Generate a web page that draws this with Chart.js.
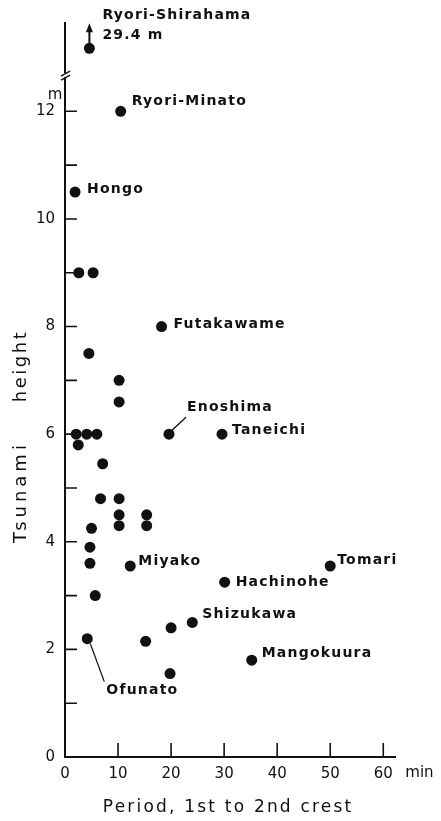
<!DOCTYPE html>
<html>
<head>
<meta charset="utf-8">
<script src="https://cdn.jsdelivr.net/npm/chart.js@4/dist/chart.umd.min.js"></script>
<style>
  html, body { margin: 0; padding: 0; background: #fff; }
  #wrap { width: 441px; height: 821px; }
</style>
</head>
<body>
<div id="wrap"><canvas id="tsunamiChart" width="441" height="821"></canvas></div>
<script>
// period between 1st and 2nd crest (min) vs. tsunami height (m)
const periods = [4.6, 10.5, 1.9, 2.6, 5.3, 18.2, 4.5, 10.2, 10.2, 2.1, 4.1, 6.0, 19.6, 29.6, 2.5, 7.1, 6.7, 10.2,
  10.2, 15.4, 10.2, 15.4, 5.0, 4.7, 4.7, 12.3, 50.0, 30.1, 5.7, 24.0, 20.0, 4.2, 15.2, 35.2, 19.8];
const heights = [29.4, 12.0, 10.5, 9.0, 9.0, 8.0, 7.5, 7.0, 6.6, 6.0, 6.0, 6.0, 6.0, 6.0, 5.8, 5.45, 4.8, 4.8,
  4.5, 4.5, 4.3, 4.3, 4.25, 3.9, 3.6, 3.55, 3.55, 3.25, 3.0, 2.5, 2.4, 2.2, 2.15, 1.8, 1.55];
const places = ['Ryori-Shirahama', 'Ryori-Minato', 'Hongo', '', '', 'Futakawame', '', '', '', '', '', '', 'Enoshima',
  'Taneichi', '', '', '', '', '', '', '', '', '', '', '', 'Miyako', 'Tomari', 'Hachinohe', '', 'Shizukawa', '',
  'Ofunato', '', 'Mangokuura', ''];
const xTicks = [0, 10, 20, 30, 40, 50, 60];
const yTicks = [0, 2, 4, 6, 8, 10, 12];

// where each place name sits relative to its dot (px), plus optional leader line
const labelPos = {
  'Ryori-Shirahama': { dx: 13, dy: -33 },
  'Ryori-Minato': { dx: 11, dy: -10 },
  'Hongo': { dx: 12, dy: -3 },
  'Futakawame': { dx: 12, dy: -2 },
  'Enoshima': { dx: 18, dy: -27, leader: [3, -4, 17, -17] },
  'Taneichi': { dx: 10, dy: -4 },
  'Miyako': { dx: 8, dy: -5 },
  'Tomari': { dx: 7, dy: -6 },
  'Hachinohe': { dx: 11, dy: 0 },
  'Shizukawa': { dx: 10, dy: -8 },
  'Mangokuura': { dx: 10, dy: -7 },
  'Ofunato': { dx: 19, dy: 52, leader: [3, 5, 17, 43] }
};

// the height axis is broken above 12.6 m, the top part is squeezed
const yBreak = 12.6;
const yCompress = 0.034;
const toAxis = v => v > yBreak ? yBreak + (v - yBreak) * yCompress : v;

const INK = '#111';
const labelFont = 'bold 14px "DejaVu Sans"';

const annotate = {
  id: 'annotate',
  afterDatasetsDraw(chart) {
    const { ctx, scales: { x, y } } = chart;
    const x0 = x.getPixelForValue(0);
    const y0 = y.getPixelForValue(0);
    const top = chart.chartArea.top;
    const brk = y.getPixelForValue(yBreak);
    ctx.save();
    ctx.strokeStyle = INK;
    ctx.fillStyle = INK;
    ctx.lineCap = 'butt';

    // axes
    ctx.lineWidth = 2;
    ctx.beginPath();
    ctx.moveTo(x0, y0 + 1);
    ctx.lineTo(x0, brk - 2);
    ctx.moveTo(x0, brk - 6);
    ctx.lineTo(x0, top);
    ctx.moveTo(x0 - 1, y0);
    ctx.lineTo(chart.chartArea.right, y0);
    ctx.stroke();
    // break marks
    ctx.lineWidth = 1.5;
    ctx.beginPath();
    ctx.moveTo(x0 - 4, brk + 1); ctx.lineTo(x0 + 5, brk - 4);
    ctx.moveTo(x0 - 4, brk - 3); ctx.lineTo(x0 + 5, brk - 8);
    ctx.stroke();

    // inner tick marks
    ctx.lineWidth = 1.6;
    ctx.beginPath();
    for (let v = 1; v <= 12; v++) {
      const py = y.getPixelForValue(v);
      ctx.moveTo(x0, py); ctx.lineTo(x0 + 12, py);
    }
    xTicks.slice(1).forEach(v => {
      const px = x.getPixelForValue(v);
      ctx.moveTo(px, y0); ctx.lineTo(px, y0 - 14);
    });
    ctx.stroke();

    // units
    ctx.font = '15px "DejaVu Sans"';
    ctx.textBaseline = 'middle';
    ctx.textAlign = 'left';
    ctx.fillText('min', x.getPixelForValue(60) + 22, y0 + 16);
    ctx.textAlign = 'center';
    ctx.fillText('m', x0 - 10, y.getPixelForValue(12) - 16);

    // axis titles
    ctx.font = '17px "DejaVu Sans"';
    ctx.letterSpacing = '2.2px';
    ctx.textAlign = 'center';
    ctx.fillText('Period, 1st to 2nd crest', (x0 + x.getPixelForValue(60)) / 2 + 4, y0 + 51);
    ctx.save();
    ctx.translate(21, 0);
    ctx.rotate(-Math.PI / 2);
    ctx.font = '18px "DejaVu Sans"';
    ctx.letterSpacing = '4px';
    ctx.fillText('Tsunami', -492, 0);
    ctx.letterSpacing = '2.5px';
    ctx.fillText('height', -366, 0);
    ctx.restore();

    // place names
    ctx.font = labelFont;
    ctx.letterSpacing = '1.2px';
    ctx.textAlign = 'left';
    ctx.lineWidth = 1.3;
    const meta = chart.getDatasetMeta(0);
    places.forEach((name, i) => {
      if (!name) return;
      const pt = meta.data[i];
      const pos = labelPos[name];
      ctx.fillText(name, pt.x + pos.dx, pt.y + pos.dy);
      if (pos.leader) {
        const [a, b, c, d] = pos.leader;
        ctx.beginPath();
        ctx.moveTo(pt.x + a, pt.y + b);
        ctx.lineTo(pt.x + c, pt.y + d);
        ctx.stroke();
      }
      if (heights[i] > yBreak) {
        // off-scale value: arrow up and the real height
        ctx.fillText(heights[i].toFixed(1) + ' m', pt.x + pos.dx, pt.y + pos.dy + 20);
        ctx.lineWidth = 2;
        ctx.beginPath();
        ctx.moveTo(pt.x, pt.y - 4);
        ctx.lineTo(pt.x, pt.y - 18);
        ctx.stroke();
        ctx.beginPath();
        ctx.moveTo(pt.x, pt.y - 25);
        ctx.lineTo(pt.x - 3.5, pt.y - 16);
        ctx.lineTo(pt.x + 3.5, pt.y - 16);
        ctx.closePath();
        ctx.fill();
        ctx.lineWidth = 1.3;
      }
    });
    ctx.restore();
  }
};

new Chart(document.getElementById('tsunamiChart'), {
  type: 'scatter',
  data: {
    datasets: [{
      label: 'Tsunami height',
      data: periods.map((p, i) => ({ x: p, y: toAxis(heights[i]) })),
      backgroundColor: INK,
      borderWidth: 0,
      pointRadius: 5.5,
      pointHoverRadius: 5.5
    }]
  },
  options: {
    responsive: false,
    animation: false,
    devicePixelRatio: 1,
    layout: { padding: { top: 22, right: 45, left: 0, bottom: 0 } },
    plugins: { legend: { display: false }, tooltip: { enabled: false } },
    scales: {
      x: {
        type: 'linear',
        min: 0,
        max: 62.4,
        afterFit: s => { s.height = 64; },
        grid: { display: false, drawTicks: false },
        border: { display: false },
        ticks: {
          stepSize: 10,
          includeBounds: false,
          padding: 8,
          maxRotation: 0,
          autoSkip: false,
          color: INK,
          font: { family: 'DejaVu Sans', size: 15 },
          callback: v => xTicks.includes(v) ? String(v) : ''
        }
      },
      y: {
        type: 'linear',
        min: 0,
        max: 13.66,
        afterFit: s => { s.width = 65; },
        grid: { display: false, drawTicks: false },
        border: { display: false },
        ticks: {
          stepSize: 1,
          includeBounds: false,
          padding: 10,
          autoSkip: false,
          color: INK,
          font: { family: 'DejaVu Sans', size: 15 },
          callback: v => yTicks.includes(v) ? String(v) : ''
        }
      }
    }
  },
  plugins: [annotate]
});
</script>
</body>
</html>
